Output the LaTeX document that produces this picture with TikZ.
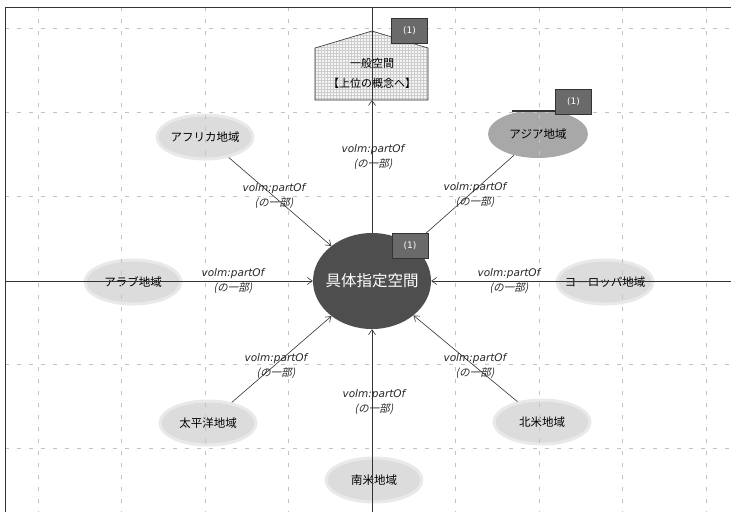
\documentclass[tikz,border=0pt]{standalone}
\usepackage{fontspec}
\setmainfont{DejaVu Sans}
\newfontfamily\jp{Noto Sans CJK JP}
\newfontfamily\jpit[FakeSlant=0.2]{Noto Sans CJK JP}
\usetikzlibrary{arrows.meta,patterns,shapes.geometric}
\definecolor{ctrfill}{HTML}{4E4E4E}
\definecolor{badgefill}{HTML}{6A6A6A}
\definecolor{asiafill}{HTML}{A8A8A8}
\definecolor{cloudfill}{HTML}{DCDCDC}
\definecolor{cloudedge}{HTML}{E9E9E9}
\definecolor{gridcol}{HTML}{C2C2C2}
\definecolor{linecol}{HTML}{333333}
\newcommand{\zbox}[1]{\makebox[0pt][c]{#1}}
\begin{document}
\begin{tikzpicture}[x=1pt,y=-1pt,
  cloudreg/.style={ellipse, fill=cloudfill, draw=cloudedge, line width=3pt,
    minimum width=96pt, minimum height=44pt, inner sep=0pt,
    font=\jp\fontsize{11.5}{12}\selectfont},
  asiareg/.style={ellipse, fill=asiafill, minimum width=100pt, minimum height=48pt,
    inner sep=0pt, font=\jp\fontsize{11.5}{12}\selectfont},
  ctrreg/.style={ellipse, fill=ctrfill, minimum width=118pt, minimum height=96pt,
    inner sep=0pt, text=white, font=\jp\fontsize{15.5}{18}\selectfont},
  badge/.style={rectangle, fill=badgefill, draw=gray!40!black, line width=0.4pt,
    minimum width=36pt, minimum height=25pt, inner sep=0pt, text=white,
    font=\fontsize{9}{10}\selectfont},
  elabel/.style={align=center, inner sep=0pt, text=black!85,
    font=\fontsize{10.5}{15}\selectfont\itshape},
  gridln/.style={draw=gridcol, line width=0.5pt, dash pattern=on 4pt off 8pt},
  axisln/.style={draw=linecol, line width=0.6pt},
  arr/.style={draw=linecol, line width=0.6pt, -{Straight Barb[length=5pt,width=7pt]}},
  framel/.style={draw=gray!40!black, line width=1pt}
]
\useasboundingbox (0,0) rectangle (731,512);
\fill[white] (0,0) rectangle (731,512);

% --- nodes drawn beneath the grid ---
\node[cloudreg] (afr) at (205,137) {\zbox{アフリカ地域}};
\node[cloudreg] (arab) at (133,282) {\zbox{アラブ地域}};
\node[cloudreg] (eur) at (605,282) {\zbox{ヨーロッパ地域}};
\node[cloudreg] (pac) at (208,423) {\zbox{太平洋地域}};
\node[cloudreg] (nam) at (542,422) {\zbox{北米地域}};
\node[cloudreg] (sam) at (374,480) {\zbox{南米地域}};
\node[asiareg] (asia) at (538,134) {\zbox{アジア地域}};

% house (general space)
\coordinate (hbl) at (315,100);
\coordinate (hml) at (315,48);
\coordinate (htop) at (372,31);
\coordinate (hmr) at (428,48);
\coordinate (hbr) at (428,100);
\coordinate (housebot) at (372,100);
\fill[gray!8] (hbl) -- (hml) -- (htop) -- (hmr) -- (hbr) -- cycle;
\fill[pattern=grid, pattern color=gray!40] (hbl) -- (hml) -- (htop) -- (hmr) -- (hbr) -- cycle;
\draw[linecol, line width=0.6pt] (hbl) -- (hml) -- (htop) -- (hmr) -- (hbr) -- cycle;
\node[align=center, inner sep=0pt, font=\jp\fontsize{11}{20}\selectfont] (house) at (372,73)
  {一般空間\\【上位の概念へ】};

% --- grid and axes ---
\foreach \gx in {38,121.5,205,288.5,455.5,539,622.5,706}
  \draw[gridln] (\gx,7) -- (\gx,512);
\foreach \gy in {28,112,196,364,448}
  \draw[gridln] (5,\gy) -- (731,\gy);
\coordinate (axT) at (372,7);
\coordinate (axB) at (372,512);
\coordinate (axL) at (5,281);
\coordinate (axR) at (731,281);
\draw[axisln] (axT) -- (htop);
\draw[axisln] (htop) -- (housebot);
\draw[axisln] (axB) -- (sam.north -| axB);
\draw[axisln] (axL) -- (arab.west |- axL);
\draw[axisln] (arab.west |- axL) -- (arab.east |- axL);
\draw[axisln] (eur.west |- axR) -- (axR);

% frame
\draw[framel] (5,512) -- (5,7) -- (731,7);

% --- centre node ---
\node[ctrreg] (ctr) at (372,281) {\zbox{具体指定空間}};

% --- connectors ---
\draw[arr] (afr) -- (ctr);
\draw[arr] (asia) -- (ctr);
\draw[arr] (arab.east |- ctr) -- (ctr.west);
\draw[arr] (eur.west |- ctr) -- (ctr.east);
\draw[arr] (pac) -- (ctr);
\draw[arr] (nam) -- (ctr);
\draw[arr] (sam.north -| ctr) -- (ctr.south);
\draw[arr] (ctr.north) -- (housebot);

% --- connector labels ---
\node[elabel] (lh) at (373,157) {volm:partOf\\{\jpit (の一部)}};
\node[elabel] (la) at (274,196) {volm:partOf\\{\jpit (の一部)}};
\node[elabel] (ls) at (475,195) {volm:partOf\\{\jpit (の一部)}};
\node[elabel] (lr) at (233,281) {volm:partOf\\{\jpit (の一部)}};
\node[elabel] (le) at (509,281) {volm:partOf\\{\jpit (の一部)}};
\node[elabel] (lp) at (276,366) {volm:partOf\\{\jpit (の一部)}};
\node[elabel] (ln) at (475,366) {volm:partOf\\{\jpit (の一部)}};
\node[elabel] (lsa) at (374,402) {volm:partOf\\{\jpit (の一部)}};

% --- badges ---
\fill[gray!40!black] (512,109.5) rectangle (556,112);
\node[badge] (bh) at (409.5,30.5) {(1)};
\node[badge] (ba) at (573.5,101.5) {(1)};
\node[badge] (bc) at (410,246) {(1)};
\end{tikzpicture}
\end{document}
